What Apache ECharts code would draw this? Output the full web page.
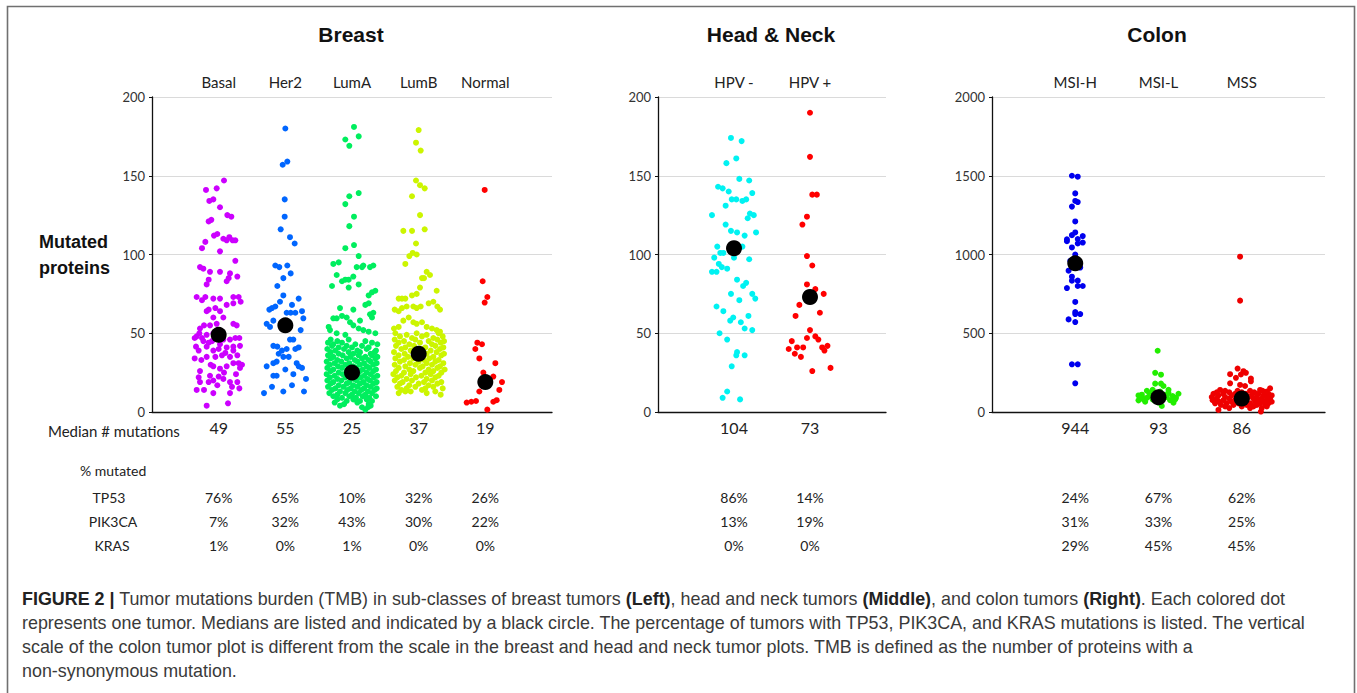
<!DOCTYPE html>
<html><head><meta charset="utf-8">
<script src="https://cdn.jsdelivr.net/npm/echarts@6/dist/echarts.min.js"></script>
<style>html,body{margin:0;padding:0;background:#fff}#c{width:1357px;height:693px}</style>
</head><body><div id="c"></div>
<script>
// ---------- DATA ----------
const breastCats = ['Basal','Her2','LumA','LumB','Normal'];
const breastMedians = [49,55,25,37,19];
const breastTP53 = ['76%','65%','10%','32%','26%'];
const breastPIK3CA = ['7%','32%','43%','30%','22%'];
const breastKRAS = ['1%','0%','1%','0%','0%'];

const hnCats = ['HPV -','HPV +'];
const hnMedians = [104,73];
const hnTP53 = ['86%','14%'];
const hnPIK3CA = ['13%','19%'];
const hnKRAS = ['0%','0%'];

const colonCats = ['MSI-H','MSI-L','MSS'];
const colonMedians = [944,93,86];
const colonTP53 = ['24%','67%','62%'];
const colonPIK3CA = ['31%','33%','25%'];
const colonKRAS = ['29%','45%','45%'];

const yTicksBreast = [0,50,100,150,200];
const yTicksColon = [0,500,1000,1500,2000];

// points: [horizontal jitter (category units), value]
const basal = [[-0.19,141],[0.08,147],[-0.03,142],[-0.14,134],[-0.08,135],[0.02,130],[-0.15,121],[-0.11,122],[0.13,125],[0.19,124],[-0.07,112],[-0.02,113],[0.07,110],[0.12,109],[0.16,111],[0.21,109],[0.25,109],[-0.20,108],[-0.25,104],[0.02,102],[0.25,96],
[-0.28,92],[-0.23,91],[-0.13,89],[0.02,89],[0.17,88],[0.28,86],[-0.15,84],[0.15,85],[0.12,83],[-0.18,81],
[-0.33,73],[-0.20,73],[-0.25,71],[-0.08,72],[0.02,72],[0.22,73],[0.30,73],[0.33,70],[0.12,68],[0.22,69],
[-0.18,64],[-0.15,65],[-0.05,66],[0.02,64],[-0.08,60],[0.07,60],
[-0.28,53],[-0.22,55],[-0.29,50],[-0.13,55],[-0.03,56],[0.22,56],[0.27,55],
[-0.18,49],[-0.08,50],[-0.33,48],[-0.36,47],[-0.25,47],[-0.23,45],[-0.15,44],[-0.10,45],[0.07,46],[0.17,46],[0.25,47],[0.31,47],
[-0.34,41.5],[-0.18,41.5],[0.02,43],[0.12,41],[0.22,41.5],[0.32,42],
[-0.30,39],[-0.08,39],[0.0,40],[0.10,37.5],[0.22,39],
[-0.36,34],[-0.18,35],[-0.05,35],[0.05,36],[0.17,35],[-0.26,33],[0.28,36],
[-0.08,29],[0.22,31],[0.30,31],[0.35,30],[-0.28,26],[0.02,27.5],[0.12,29],[0.32,28],[-0.12,30],[0.08,25],[0.26,24],[-0.30,22],
[-0.13,23],[0.0,22.5],[0.07,21],[-0.28,19],[-0.15,19],[-0.08,20],[0.17,19],[0.28,19],[-0.02,17],[0.20,16],
[-0.22,14],[-0.33,14],[-0.08,12],[0.17,12],[0.31,15],[0.14,5.5],[-0.18,4]];

const her2 = [[0.0,180],[-0.04,157],[0.03,159],[-0.01,135],[-0.01,124],[-0.07,116],[0.07,111],[0.14,107],
[-0.15,93],[0.03,93],[-0.09,92],[-0.03,85],[0.08,88],[-0.12,80],[-0.03,74],[0.20,72],[-0.08,70],
[-0.24,65],[-0.20,66],[-0.15,67],[0.10,68],[0.02,63],[0.08,63],[0.15,63],[0.25,64],[0.27,59.5],
[-0.28,56],[-0.23,54],[-0.18,58],[0.23,52],[0.07,46],[0.12,46],[-0.18,42],[-0.12,41.5],[-0.05,39],[0.02,40],[0.15,40],[0.20,41],
[-0.10,37],[-0.03,35],[0.05,35],[-0.13,32],[-0.18,31],[-0.28,29],[0.17,31],[0.25,28],[0.20,29],[0.0,27],[0.12,24],[-0.18,23],[-0.13,23],[0.31,21],[-0.20,16],[0.10,17],[-0.32,12],[-0.03,13],[0.28,13]];

const lumA = [[0.03,181],[0.10,175],[-0.10,173],[-0.04,169],[0.10,139],[-0.04,137],[-0.10,132],[0.03,124],[-0.04,118],[-0.10,104],[0.03,106],[0.10,99],
[-0.28,94],[-0.20,95],[0.15,92],[0.17,93],[0.07,92],[0.27,92],[0.32,93],[-0.23,87],[-0.05,84],[-0.15,83],[-0.10,84],[0.02,86],[-0.30,80],[-0.05,79],[0.10,81],[0.25,74],[0.30,76],[0.35,77],[0.20,68],[0.25,69],[-0.18,66],[0.02,65],[0.27,62],[0.32,63],[-0.28,59.5],[-0.23,59.5],[-0.15,61],[-0.08,60],[-0.03,57],[0.12,58],[0.30,60],[-0.35,54],[-0.33,52],[0.02,55],[0.10,53],[0.17,52],[0.25,51],[0.35,50],[-0.23,50],[-0.10,49],
[-0.32,46],[-0.22,45],[-0.05,46],[0.20,45],[-0.36,44],[-0.28,43],[-0.15,44],[0.05,43],[0.30,44],[0.38,43],
[-0.30,42],[-0.20,41],[-0.08,42],[0.00,41],[0.15,42],[0.25,41],[-0.37,40],[-0.25,39],[-0.12,40],[0.08,39],[0.22,40],[0.36,39],
[-0.32,38],[-0.20,37],[-0.05,38],[0.02,37],[0.12,38],[0.28,37],[0.34,38],[-0.36,36],[-0.28,35],[-0.14,36],[-0.02,35],[0.10,36],[0.20,35],[0.30,36],[0.38,35],
[-0.32,34],[-0.22,33],[-0.08,34],[0.04,33],[0.15,34],[0.25,33],[0.35,34],[-0.38,32],[-0.26,31],[-0.16,32],[-0.04,31],[0.08,32],[0.18,31],[0.28,32],[0.37,31],
[-0.33,30],[-0.21,29],[-0.10,30],[0.02,29],[0.12,30],[0.22,29],[0.32,30],[-0.37,28],[-0.28,27],[-0.15,28],[-0.03,27],[0.06,28],[0.16,27],[0.26,28],[0.36,27],
[-0.32,26],[-0.20,25],[-0.08,26],[0.02,25],[0.12,26],[0.22,25],[0.32,26],[-0.38,24],[-0.26,23],[-0.14,24],[-0.02,23],[0.08,24],[0.18,23],[0.28,24],[0.38,23],
[-0.33,22],[-0.22,21],[-0.10,22],[0.03,21],[0.13,22],[0.23,21],[0.33,22],[-0.37,20],[-0.28,19],[-0.16,20],[-0.04,19],[0.07,20],[0.17,19],[0.27,20],[0.37,19],
[-0.32,18],[-0.20,17],[-0.08,18],[0.02,17],[0.12,18],[0.22,17],[0.32,18],[-0.36,16],[-0.25,15],[-0.13,16],[-0.02,15],[0.08,16],[0.18,15],[0.28,16],[0.37,15],
[-0.30,14],[-0.18,13],[-0.07,14],[0.04,13],[0.14,14],[0.24,13],[0.34,14],[-0.34,12],[-0.22,11],[-0.10,12],[0.00,11],[0.10,12],[0.20,11],[0.30,12],
[-0.28,10],[-0.15,9],[-0.04,10],[0.06,9],[0.16,10],[0.26,9],[0.36,10],[-0.22,8],[-0.08,7],[0.02,8],[0.12,7],[0.22,8],[0.30,7],
[-0.26,6],[-0.12,5],[0.08,6],[0.25,5],[-0.18,4],[0.15,3],[0.28,4],[0.20,1.5],[0.24,3]];

const lumB = [[0.0,179],[-0.04,171],[0.03,166],[-0.04,147],[0.02,144],[0.09,142],[-0.10,137],[0.02,125],[-0.10,115],[0.09,116],[-0.04,107],[-0.14,99],[-0.09,101],[-0.03,100],[-0.23,115],[-0.20,94],[0.12,89],[0.17,87],[0.05,85],[0.08,85],[0.27,77],[0.02,79],[-0.30,72],[-0.25,72],[-0.20,72],[-0.10,74],[-0.03,75],[-0.36,65],[-0.30,64],[-0.25,66],[-0.18,67],[-0.08,67],[-0.03,66],[0.03,67],[0.15,69],[0.22,70],[0.28,67],[0.32,65],[-0.37,53],[-0.30,54],[-0.23,58],[-0.15,60],[-0.08,57],[-0.03,56],[0.05,57],[0.12,54],[0.20,53],[0.27,52],[0.32,51],
[-0.35,50],[-0.18,49],[-0.03,50],[0.12,49],[0.30,50],[-0.28,48],[-0.10,47],[0.05,48],[0.22,47],[0.36,48],
[-0.36,46],[-0.22,45],[-0.05,46],[0.15,45],[0.28,46],[0.38,45],[-0.30,44],[-0.14,43],[0.02,44],[0.20,43],[0.33,44],
[-0.34,42],[-0.20,41],[-0.07,42],[0.10,41],[0.25,42],[0.37,41],[-0.26,40],[-0.12,39],[0.06,40],[0.18,39],[0.32,40],
[-0.37,38],[-0.21,37],[-0.04,38],[0.12,37],[0.27,38],[0.38,37],[-0.30,36],[-0.16,35],[0.02,36],[0.22,35],[0.34,36],
[-0.35,34],[-0.22,33],[-0.08,34],[0.08,33],[0.16,34],[0.30,33],[-0.28,32],[-0.13,31],[0.00,32],[0.12,31],[0.25,32],[0.37,31],
[-0.36,30],[-0.20,29],[-0.05,30],[0.06,29],[0.20,30],[0.32,29],[-0.30,28],[-0.14,27],[0.02,28],[0.15,27],[0.28,28],[0.39,27],
[-0.34,26],[-0.22,25],[-0.08,26],[0.10,25],[0.22,26],[0.34,25],[-0.38,24],[-0.26,23],[-0.12,24],[0.04,23],[0.18,24],[0.30,23],
[-0.32,22],[-0.18,21],[-0.04,22],[0.12,21],[0.25,22],[-0.36,20],[-0.24,19],[-0.10,20],[0.08,19],[0.20,20],[0.34,19],
[-0.28,18],[-0.14,17],[0.00,18],[0.15,17],[0.28,18],[-0.32,16],[-0.18,15],[-0.05,16],[0.10,15],[0.22,16],[0.36,15],
[-0.26,14],[-0.12,13],[0.05,14],[0.25,13],[-0.30,12],[-0.20,13],[0.12,12],[0.33,11]];

const normal = [[-0.01,141],[-0.04,83],[0.03,73],[-0.01,69.5],[-0.12,44],[-0.05,43],[-0.15,40],[-0.09,34],[0.15,31],[-0.03,25],[0.12,22.5],[0.25,19],[-0.06,18],[-0.09,13],[0.21,14],[-0.28,6],[-0.21,6.5],[-0.14,7],[0.12,6.5],[0.17,7.5],[0.03,1.5]];

const hpvNeg = [[-0.04,174],[0.10,172],[0.03,161],[-0.10,158],[0.07,148],[0.20,147],[-0.21,143],[-0.15,142],[-0.07,140],[0.24,139],[-0.03,135],[0.03,135],[0.11,134],[0.16,135],[-0.11,131],[-0.29,125],[0.21,126],[0.26,125],[0.18,123],[-0.11,119],[-0.04,115],[0.04,114],[0.29,114],[0.14,112],[-0.22,105],[0.11,105],[-0.18,101],[-0.14,101],[-0.26,98],[0.0,98],[0.20,97],[-0.20,94],[-0.16,92],[-0.09,91],[-0.29,89],[-0.23,89],[0.04,84],[0.16,82],[0.12,80],[-0.04,75],[0.24,75],[0.28,72],[0.07,71],[-0.23,67],[-0.14,64],[0.19,61],[-0.01,60],[-0.05,58],[0.09,57],[0.14,53],[0.24,52],[-0.19,50],[-0.09,46],[0.04,38],[0.03,36],[0.14,36],[-0.03,29],[-0.09,13],[-0.15,9],[0.08,8]];

const hpvPos = [[0.0,190],[0.0,162],[0.03,138],[0.09,138],[-0.04,124],[-0.10,119],[-0.04,99],[0.03,93],[-0.04,81],[0.07,78],[0.18,75],[-0.14,68],[0.13,63],[-0.19,61],[0.0,52],[-0.04,47],[0.07,48],[0.11,46],[-0.24,45],[-0.17,41],[-0.09,41],[-0.28,40],[0.16,41],[0.23,42],[0.19,39],[-0.20,37],[-0.12,35],[0.03,26],[0.27,28]];

const msiH = [[-0.04,1500],[0.03,1494],[0.0,1388],[0.0,1340],[0.03,1333],[-0.04,1304],[0.0,1210],[0.0,1140],[-0.04,1123],[0.09,1117],[-0.10,1096],[-0.10,1084],[0.03,1098],[0.03,1070],[0.09,1076],[-0.04,1045],[0.0,1000],[-0.06,960],[0.05,930],[-0.08,897],[0.06,917],[-0.04,859],[-0.04,834],[0.03,834],[-0.10,787],[0.03,800],[0.09,800],[0.0,699],[0.0,635],[0.0,622],[0.06,622],[-0.08,588],[0.0,571],[-0.04,303],[0.03,303],[0.0,182]];

const msiL = [[-0.01,389],[-0.04,249],[0.03,237],[-0.04,180],[0.03,180],[0.06,165],[0.12,141],[-0.14,135],[-0.07,141],[-0.24,105],[-0.20,110],[-0.11,121],[0.24,116],[0.21,90],[0.17,101],[-0.24,74],[-0.18,80],[-0.14,90],[-0.07,80],[0.18,59],[0.04,38],[-0.02,120],[0.02,130],[0.10,95],[0.14,75],[-0.10,100],[-0.04,70],[0.06,85],[0.0,60],[-0.16,65],[0.08,110],[-0.05,95],[0.12,120],[0.20,80],[-0.20,95]];

const mss = [[-0.02,986],[-0.02,707],[-0.05,276],[-0.14,240],[-0.07,217],[-0.01,238],[0.02,259],[0.05,249],[0.11,212],[0.11,195],[-0.14,182],[-0.02,172],[0.04,165],[0.34,150],[-0.26,140],[0.22,140],[-0.28,13],[0.23,3],
[-0.20,135],[-0.05,135],[0.10,135],[0.25,135],[0.30,130],[-0.30,125],[-0.15,125],[0.0,125],[0.15,125],[0.28,125],
[-0.34,115],[-0.22,115],[-0.08,115],[0.05,115],[0.20,115],[0.32,115],[-0.28,105],[-0.12,105],[0.02,105],[0.12,105],[0.26,105],[0.36,105],
[-0.36,95],[-0.20,95],[-0.05,95],[0.08,95],[0.18,95],[0.30,95],[-0.30,85],[-0.15,85],[0.0,85],[0.14,85],[0.24,85],[0.34,85],
[-0.35,75],[-0.22,75],[-0.08,75],[0.05,75],[0.20,75],[0.30,75],[-0.27,65],[-0.12,65],[0.02,65],[0.16,65],[0.26,65],[0.36,65],
[-0.32,55],[-0.18,55],[-0.04,55],[0.10,55],[0.22,55],[0.32,55],[-0.25,45],[-0.10,45],[0.06,45],[0.18,45],[0.28,45],
[-0.20,35],[0.0,35],[0.14,35],[0.30,35],[-0.15,25],[0.10,25],[0.24,25]];

// ---------- STYLE ----------
const FONT = 'Lato, "Liberation Sans", sans-serif';
const HFONT = '"Liberation Sans", Arial, sans-serif';

const panels = [
  {cats: breastCats, med: breastMedians, rows: [breastTP53, breastPIK3CA, breastKRAS], groups: [basal, her2, lumA, lumB, normal],
   colors: ['#cc00ff', '#0066ff', '#00ee5e', '#ccf500', '#ff0000'], yMax: 200, yInt: 50, left: 152, width: 400},
  {cats: hnCats, med: hnMedians, rows: [hnTP53, hnPIK3CA, hnKRAS], groups: [hpvNeg, hpvPos],
   colors: ['#00f2f2', '#ff0000'], yMax: 200, yInt: 50, left: 658, width: 228},
  {cats: colonCats, med: colonMedians, rows: [colonTP53, colonPIK3CA, colonKRAS], groups: [msiH, msiL, mss],
   colors: ['#0000ee', '#22ee00', '#ee0000'], yMax: 2000, yInt: 500, left: 992, width: 333}
];

const grids = [], xAxes = [], yAxes = [], series = [];
panels.forEach((p, g) => {
  const n = p.cats.length;
  grids.push({left: p.left, top: 97, width: p.width, height: 315});
  const base = {gridIndex: g, type: 'value', min: 0, max: n + 1, interval: 1, splitLine: {show: false}, axisTick: {show: false}};
  const pick = arr => v => (v >= 1 && v <= n) ? String(arr[v - 1]) : '';
  xAxes.push(Object.assign({}, base, {position: 'bottom',
    axisLine: {show: true, onZero: false, lineStyle: {color: '#111', width: 1.3}},
    axisLabel: {formatter: pick(p.med), margin: 7, fontSize: 16, color: '#222', fontFamily: FONT}}));
  xAxes.push(Object.assign({}, base, {position: 'top', axisLine: {show: false},
    axisLabel: {formatter: pick(p.cats), margin: 8, fontSize: 15, color: '#222', fontFamily: FONT}}));
  const offs = [78, 102.5, 126.5];
  p.rows.forEach((r, k) => {
    xAxes.push(Object.assign({}, base, {position: 'bottom', offset: offs[k], axisLine: {show: false},
      axisLabel: {formatter: pick(r), margin: 0, fontSize: 14, color: '#222', fontFamily: FONT}}));
  });
  yAxes.push({gridIndex: g, type: 'value', min: 0, max: p.yMax, interval: p.yInt,
    axisLine: {show: true, lineStyle: {color: '#111', width: 1.3}},
    axisTick: {show: true, length: 3, lineStyle: {color: '#111'}},
    splitLine: {lineStyle: {color: '#dadada', width: 1}},
    axisLabel: {fontSize: 13, color: '#333', margin: 7, fontFamily: FONT, formatter: v => String(v)}});
  p.groups.forEach((pts, i) => {
    series.push({type: 'scatter', xAxisIndex: g * 5, yAxisIndex: g, symbolSize: 6, silent: true,
      itemStyle: {color: p.colors[i], opacity: 1},
      data: pts.map(d => [i + 1 + d[0], d[1]])});
  });
  series.push({type: 'scatter', xAxisIndex: g * 5, yAxisIndex: g, symbolSize: 16, silent: true, z: 5,
    itemStyle: {color: '#000', opacity: 1}, data: p.med.map((m, i) => [i + 1, m])});
});

const txt = (x, y, text, o) => ({type: 'text', x, y, silent: true,
  style: Object.assign({text, fill: '#222', fontFamily: FONT, fontSize: 14, textAlign: 'left', textVerticalAlign: 'middle'}, o || {})});

const CAPSIZE = 17.9;
const capStyle = {fontFamily: HFONT, fontSize: CAPSIZE, fill: '#3a3a3a', textAlign: 'left', textVerticalAlign: 'middle',
  rich: {b: {fontWeight: 'bold', fill: '#222', fontFamily: HFONT, fontSize: CAPSIZE}}};

const graphics = [
  {type: 'rect', shape: {x: 7.5, y: 6.5, width: 1347, height: 720}, style: {fill: 'none', stroke: '#707070', lineWidth: 1.6}, silent: true},
  txt(351, 34, 'Breast', {fontFamily: HFONT, fontWeight: 'bold', fontSize: 21, textAlign: 'center', fill: '#111'}),
  txt(771, 34, 'Head & Neck', {fontFamily: HFONT, fontWeight: 'bold', fontSize: 21, textAlign: 'center', fill: '#111'}),
  txt(1157, 34, 'Colon', {fontFamily: HFONT, fontWeight: 'bold', fontSize: 21, textAlign: 'center', fill: '#111'}),
  txt(39, 242, 'Mutated', {fontFamily: HFONT, fontWeight: 'bold', fontSize: 18, fill: '#111'}),
  txt(39, 268, 'proteins', {fontFamily: HFONT, fontWeight: 'bold', fontSize: 18, fill: '#111'}),
  txt(48, 431, 'Median # mutations', {fontSize: 15}),
  txt(80, 470, '% mutated', {fontSize: 14}),
  txt(109, 497, 'TP53', {textAlign: 'center'}),
  txt(113, 521.5, 'PIK3CA', {textAlign: 'center'}),
  txt(112, 545.5, 'KRAS', {textAlign: 'center'}),
  {type: 'text', x: 22, y: 599, silent: true, style: Object.assign({}, capStyle, {text: '{b|FIGURE 2 |} Tumor mutations burden (TMB) in sub-classes of breast tumors {b|(Left)}, head and neck tumors {b|(Middle)}, and colon tumors {b|(Right)}. Each colored dot'})},
  {type: 'text', x: 22, y: 623, silent: true, style: Object.assign({}, capStyle, {text: 'represents one tumor. Medians are listed and indicated by a black circle. The percentage of tumors with TP53, PIK3CA, and KRAS mutations is listed. The vertical'})},
  {type: 'text', x: 22, y: 647, silent: true, style: Object.assign({}, capStyle, {text: 'scale of the colon tumor plot is different from the scale in the breast and head and neck tumor plots. TMB is defined as the number of proteins with a'})},
  {type: 'text', x: 22, y: 671, silent: true, style: Object.assign({}, capStyle, {text: 'non-synonymous mutation.'})}
];

const chart = echarts.init(document.getElementById('c'), null, {renderer: 'svg'});
chart.setOption({animation: false, backgroundColor: '#fff', grid: grids, xAxis: xAxes, yAxis: yAxes, series, graphic: graphics});
</script></body></html>
